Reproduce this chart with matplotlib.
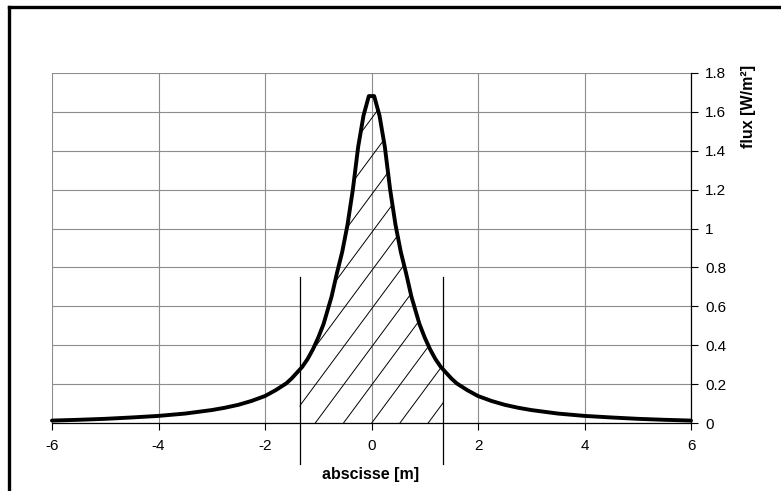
import numpy as np
import matplotlib
matplotlib.use("Agg")
import matplotlib.pyplot as plt
from matplotlib.patches import Polygon
from matplotlib.lines import Line2D

plt.rcParams['font.family'] = ['Liberation Sans', 'DejaVu Sans']

# data
x_half = [0.05, 0.15, 0.25, 0.35, 0.45, 0.55, 0.65, 0.75, 0.9, 1.0, 1.1, 1.2, 1.3,
          1.4, 1.5, 1.6, 1.8, 2.0, 2.25, 2.5, 2.75, 3.0, 3.5, 4.0, 4.5, 5.0, 5.5, 6.0]
flux_half = [1.68, 1.58, 1.42, 1.20, 1.02, 0.88, 0.77, 0.65, 0.51, 0.44, 0.38, 0.33, 0.29,
             0.26, 0.23, 0.205, 0.17, 0.14, 0.115, 0.095, 0.08, 0.068, 0.05, 0.038,
             0.03, 0.023, 0.018, 0.014]
x = np.array([-v for v in x_half[::-1]] + x_half)
flux = np.array(flux_half[::-1] + flux_half)

bound = 1.35          # limits of the hatched zone
bound_top = 0.75
bound_bottom = -0.21
xticks = [-6, -4, -2, 0, 2, 4, 6]
yticks = [0, 0.2, 0.4, 0.6, 0.8, 1, 1.2, 1.4, 1.6, 1.8]
ytick_labels = ['0', '0.2', '0.4', '0.6', '0.8', '1', '1.2', '1.4', '1.6', '1.8']

fig = plt.figure(figsize=(7.81, 4.91), dpi=100)
ax = fig.add_axes([52/781, 1-423.3/491, (691-52)/781, (423.3-72.7)/491])
ax.set_xlim(-6, 6)
ax.set_ylim(0, 1.8)

ax.set_xticks(xticks)
ax.set_xticklabels([str(v) for v in xticks])
ax.set_yticks(yticks)
ax.set_yticklabels(ytick_labels)
ax.yaxis.tick_right()
ax.tick_params(axis='both', direction='out', length=5, width=0.8, labelsize=11,
               colors='black', pad=5)
ax.tick_params(axis='x', pad=6)
ax.grid(True, color='#8c8c8c', linewidth=0.8)
ax.set_axisbelow(True)
for s in ['top', 'left']:
    ax.spines[s].set_visible(False)
for s in ['bottom', 'right']:
    ax.spines[s].set_color('black')
    ax.spines[s].set_linewidth(0.9)

# hatched zone under the curve between the bounds
xs = np.linspace(-bound, bound, 200)
ys = np.interp(xs, x, flux)
verts = [(-bound, 0)] + list(zip(xs, ys)) + [(bound, 0)]
poly = Polygon(verts, closed=True, facecolor='none', edgecolor='none')
ax.add_patch(poly)
# hatch lines (steep diagonals)
spacing = 0.53
slope = 1.35 * (639/12) / (350.6/1.8)
for k in range(-12, 13):
    x0 = k * spacing
    hx = np.array([x0, x0 + 2.0 / slope])
    hy = slope * (hx - x0)
    ln, = ax.plot(hx, hy, color='black', linewidth=0.7, zorder=2)
    ln.set_clip_path(poly)

ax.plot(x, flux, color='black', linewidth=2.8, solid_joinstyle='round',
        solid_capstyle='round', zorder=3, clip_on=False)

for b in (-bound, bound):
    ax.plot([b, b], [bound_bottom, bound_top], color='black', linewidth=0.9,
            clip_on=False, zorder=4)

fig.text(371/781, 1-475/491, 'abscisse [m]', ha='center', va='center',
         fontsize=11.5, fontweight='bold')
fig.text(748/781, 1-106/491, 'flux [W/m²]', ha='center', va='center',
         rotation=90, fontsize=11.5, fontweight='bold')

# outer frame (left and top sides visible)
fig.add_artist(Line2D([9/781, 9/781], [0, 1-7/491], transform=fig.transFigure,
                      color='black', linewidth=2.4))
fig.add_artist(Line2D([9/781, 1], [1-7/491, 1-7/491], transform=fig.transFigure,
                      color='black', linewidth=2.4))

fig.savefig('out.png', dpi=100)
